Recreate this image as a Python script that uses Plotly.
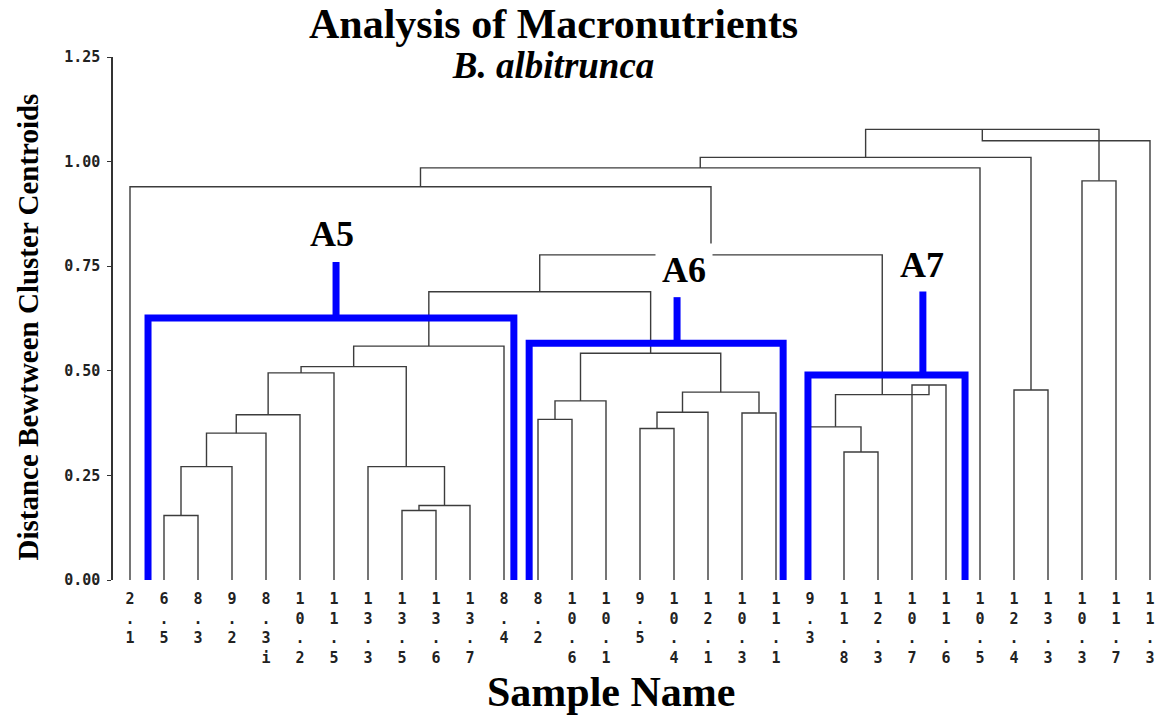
import plotly.graph_objects as go

# ---- data -------------------------------------------------------------
leaf_names = ["2.1", "6.5", "8.3", "9.2", "8.3i", "10.2", "11.5", "13.3", "13.5",
              "13.6", "13.7", "8.4", "8.2", "10.6", "10.1", "9.5", "10.4", "12.1",
              "10.3", "11.1", "9.3", "11.8", "12.3", "10.7", "11.6", "10.5", "12.4",
              "13.3", "10.3", "11.7", "11.3"]

# merges: node ids start at len(leaf_names); (child_a, child_b, height)
merge_a = [1, 31, 32, 33, 34, 8, 36, 7, 35, 39, 12, 41, 15, 43, 18, 44, 42, 40,
           21, 20, 23, 50, 48, 0, 54, 26, 55, 28, 57, 59]
merge_b = [2, 3, 4, 5, 6, 9, 10, 37, 38, 11, 13, 14, 16, 17, 19, 45, 46, 47,
           22, 49, 24, 51, 52, 53, 25, 27, 56, 29, 58, 30]
merge_h = [0.154, 0.271, 0.351, 0.395, 0.495, 0.166, 0.178, 0.271, 0.510, 0.559,
           0.384, 0.428, 0.362, 0.401, 0.399, 0.449, 0.542, 0.689,
           0.306, 0.366, 0.466, 0.443, 0.777, 0.940, 0.985, 0.454, 1.010,
           0.954, 1.077, 1.050]

# highlighted groups: name, left, right, bracket height, stem x, stem top, label pos
group_names = ["A5", "A6", "A7"]
group_left = [0.53, 11.74, 19.94]
group_right = [11.29, 19.21, 24.56]
group_level = [0.626, 0.566, 0.490]
group_stem_x = [6.06, 16.09, 23.32]
group_stem_top = [0.760, 0.676, 0.693]
group_label_x = [5.95, 16.3, 23.3]
group_label_y = [0.826, 0.740, 0.753]

y_tickvals = [0.0, 0.25, 0.5, 0.75, 1.0, 1.25]
y_ticktext = ["0.00", "0.25", "0.50", "0.75", "1.00", "1.25"]

# ---- build dendrogram segments ---------------------------------------
n = len(leaf_names)
node_x = {i: float(i) for i in range(n)}
node_h = {i: 0.0 for i in range(n)}
xs, ys = [], []
for k, (a, b, h) in enumerate(zip(merge_a, merge_b, merge_h)):
    nid = n + k
    xa, xb = node_x[a], node_x[b]
    xs += [xa, xa, xb, xb, None]
    ys += [node_h[a], h, h, node_h[b], None]
    node_x[nid] = (xa + xb) / 2
    node_h[nid] = h

fig = go.Figure()
fig.add_trace(go.Scatter(x=xs, y=ys, mode="lines",
                         line=dict(color="#3c3c3c", width=1.4),
                         hoverinfo="skip", showlegend=False, cliponaxis=False))

bottom = -0.004
for name, l, r, lev, sx, st in zip(group_names, group_left, group_right,
                                   group_level, group_stem_x, group_stem_top):
    fig.add_trace(go.Scatter(x=[l, l, r, r, None, sx, sx],
                             y=[bottom, lev, lev, bottom, None, lev, st],
                             mode="lines",
                             line=dict(color="#0000ff", width=7),
                             hoverinfo="skip", showlegend=False, cliponaxis=False))

for name, lx, ly in zip(group_names, group_label_x, group_label_y):
    fig.add_annotation(x=lx, y=ly, xref="x", yref="y", text="<b>%s</b>" % name,
                       showarrow=False, bgcolor="white", borderpad=6,
                       font=dict(family="Liberation Serif", size=36, color="black"))

x_ticktext = ["<br>".join(list(s)) for s in leaf_names]

fig.update_xaxes(range=[-0.5, n - 0.5], tickvals=list(range(n)), ticktext=x_ticktext,
                 showgrid=False, zeroline=False, showline=False, ticks="",
                 ticklabelstandoff=8,
                 tickfont=dict(family="DejaVu Sans Mono", size=15, color="#222",
                               weight="bold"))
fig.update_yaxes(range=[0, 1.25], tickvals=y_tickvals, ticktext=y_ticktext,
                 showgrid=False, zeroline=False, showline=True, linecolor="#333",
                 linewidth=1.5, ticks="outside", ticklen=4, tickcolor="#333",
                 ticklabelstandoff=4,
                 tickfont=dict(family="DejaVu Sans Mono", size=15, color="#222",
                               weight="bold"))

# titles (two lines in one text block)
fig.add_annotation(x=0.418, y=1, xref="paper", yref="paper", yanchor="top",
                   yshift=57, borderpad=0,
                   text=("<span style='font-size:42px'><b>Analysis of Macronutrients</b></span><br>"
                         "<span style='font-size:37px'><b><i>B. albitrunca</i></b></span>"),
                   showarrow=False, align="center",
                   font=dict(family="Liberation Serif", size=31, color="black"))
fig.add_annotation(x=0.4725, y=0, xref="paper", yref="paper", yshift=-137,
                   text="<b>Sample Name</b>", showarrow=False,
                   font=dict(family="Liberation Serif", size=42, color="black"))
fig.add_annotation(x=0, y=0.5, xref="paper", yref="paper", xshift=-104, yshift=-9,
                   text="<b>Distance Bewtween Cluster Centroids</b>", textangle=-90,
                   showarrow=False,
                   font=dict(family="Liberation Serif", size=29, color="black"))

fig.update_layout(width=1171, height=715, margin=dict(l=113, r=4, t=57, b=135),
                  plot_bgcolor="white", paper_bgcolor="white")

fig.write_html("out.html")
